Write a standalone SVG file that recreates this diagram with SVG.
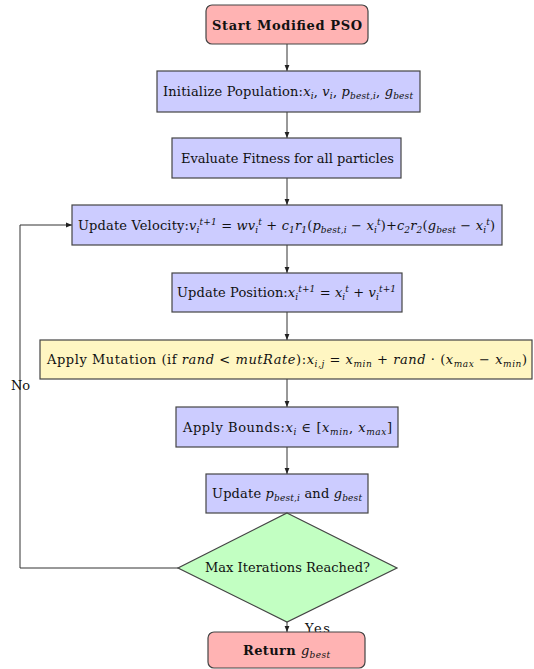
<svg xmlns="http://www.w3.org/2000/svg" width="534" height="669" viewBox="0 0 534 669" font-family="'DejaVu Serif', 'Liberation Serif', serif">
  <style>
    text { font-family: "DejaVu Serif", "Liberation Serif", serif; font-size: 13px; fill: #111; }
    .m { font-style: italic; }
    .s { font-size: 9px; font-style: italic; }
    .b { font-weight: bold; }
    .box { stroke: #444; stroke-width: 1.2; }
    .term { fill: #ffb3b3; }
    .proc { fill: #ccccff; }
    .mut { fill: #fff6c2; }
    .dec { fill: #c2ffc2; }
    .edge { fill: none; stroke: #333; stroke-width: 1; marker-end: url(#arrow); }
  </style>
  <defs>
    <marker id="arrow" viewBox="0 0 6 6" refX="6" refY="3" markerWidth="6" markerHeight="6" orient="auto" markerUnits="userSpaceOnUse">
      <path d="M0,0.6 L6,3 L0,5.4 z" fill="#222"/>
    </marker>
  </defs>

  <g id="connectors">
    <line class="edge" x1="287" y1="44" x2="287" y2="71"/>
    <line class="edge" x1="287" y1="112" x2="287" y2="138"/>
    <line class="edge" x1="287" y1="178" x2="287" y2="205"/>
    <line class="edge" x1="287" y1="245" x2="287" y2="273"/>
    <line class="edge" x1="287" y1="312" x2="287" y2="340"/>
    <line class="edge" x1="287" y1="379" x2="287" y2="407"/>
    <line class="edge" x1="287" y1="447" x2="287" y2="474"/>
    <line class="edge" x1="287" y1="513" x2="287" y2="515"/>
    <line class="edge" x1="287" y1="621" x2="287" y2="632"/>
    <polyline class="edge" points="178,568 20,568 20,225 72,225"/>
    <text x="11" y="390" textLength="19">No</text>
    <text x="305" y="633" textLength="25">Yes</text>
  </g>

  <g id="start">
    <rect class="box term" x="206" y="5" width="162" height="39" rx="6"/>
    <text class="b" x="212" y="29.5" textLength="150">Start Modified PSO</text>
  </g>

  <g id="init">
    <rect class="box proc" x="157" y="71" width="263" height="41"/>
    <text x="163" y="96" textLength="250">Initialize Population:<tspan class="m">x</tspan><tspan class="s" dy="3">i</tspan><tspan dy="-3">, </tspan><tspan class="m">v</tspan><tspan class="s" dy="3">i</tspan><tspan dy="-3">, </tspan><tspan class="m">p</tspan><tspan class="s" dy="3">best,i</tspan><tspan dy="-3">, </tspan><tspan class="m">g</tspan><tspan class="s" dy="3">best</tspan></text>
  </g>

  <g id="evaluate">
    <rect class="box proc" x="172" y="138" width="229" height="40"/>
    <text x="181" y="162.5" textLength="213">Evaluate Fitness for all particles</text>
  </g>

  <g id="velocity">
    <rect class="box proc" x="72" y="205" width="430" height="40"/>
    <text x="78" y="230" textLength="417">Update Velocity:<tspan class="m">v</tspan><tspan class="s" dy="3">i</tspan><tspan class="s" dy="-8">t+1</tspan><tspan dy="5"> = </tspan><tspan class="m">wv</tspan><tspan class="s" dy="3">i</tspan><tspan class="s" dy="-8">t</tspan><tspan dy="5"> + </tspan><tspan class="m">c</tspan><tspan class="s" dy="3">1</tspan><tspan class="m" dy="-3">r</tspan><tspan class="s" dy="3">1</tspan><tspan dy="-3">(</tspan><tspan class="m">p</tspan><tspan class="s" dy="3">best,i</tspan><tspan dy="-3"> − </tspan><tspan class="m">x</tspan><tspan class="s" dy="3">i</tspan><tspan class="s" dy="-8">t</tspan><tspan dy="5">)+</tspan><tspan class="m">c</tspan><tspan class="s" dy="3">2</tspan><tspan class="m" dy="-3">r</tspan><tspan class="s" dy="3">2</tspan><tspan dy="-3">(</tspan><tspan class="m">g</tspan><tspan class="s" dy="3">best</tspan><tspan dy="-3"> − </tspan><tspan class="m">x</tspan><tspan class="s" dy="3">i</tspan><tspan class="s" dy="-8">t</tspan><tspan dy="5">)</tspan></text>
  </g>

  <g id="position">
    <rect class="box proc" x="172" y="273" width="230" height="39"/>
    <text x="177" y="297" textLength="219">Update Position:<tspan class="m">x</tspan><tspan class="s" dy="3">i</tspan><tspan class="s" dy="-8">t+1</tspan><tspan dy="5"> = </tspan><tspan class="m">x</tspan><tspan class="s" dy="3">i</tspan><tspan class="s" dy="-8">t</tspan><tspan dy="5"> + </tspan><tspan class="m">v</tspan><tspan class="s" dy="3">i</tspan><tspan class="s" dy="-8">t+1</tspan></text>
  </g>

  <g id="mutation">
    <rect class="box mut" x="40" y="340" width="492" height="39"/>
    <text x="47" y="364" textLength="480">Apply Mutation (if <tspan class="m">rand</tspan> &lt; <tspan class="m">mutRate</tspan>):<tspan class="m">x</tspan><tspan class="s" dy="3">i,j</tspan><tspan dy="-3"> = </tspan><tspan class="m">x</tspan><tspan class="s" dy="3">min</tspan><tspan dy="-3"> + </tspan><tspan class="m">rand</tspan> · (<tspan class="m">x</tspan><tspan class="s" dy="3">max</tspan><tspan dy="-3"> − </tspan><tspan class="m">x</tspan><tspan class="s" dy="3">min</tspan><tspan dy="-3">)</tspan></text>
  </g>

  <g id="bounds">
    <rect class="box proc" x="176" y="407" width="222" height="40"/>
    <text x="183" y="431.5" textLength="209">Apply Bounds:<tspan class="m">x</tspan><tspan class="s" dy="3">i</tspan><tspan dy="-3"> ∈ [</tspan><tspan class="m">x</tspan><tspan class="s" dy="3">min</tspan><tspan dy="-3">, </tspan><tspan class="m">x</tspan><tspan class="s" dy="3">max</tspan><tspan dy="-3">]</tspan></text>
  </g>

  <g id="update-best">
    <rect class="box proc" x="206" y="474" width="162" height="39"/>
    <text x="212" y="498" textLength="150">Update <tspan class="m">p</tspan><tspan class="s" dy="3">best,i</tspan><tspan dy="-3"> and </tspan><tspan class="m">g</tspan><tspan class="s" dy="3">best</tspan></text>
  </g>

  <g id="decision">
    <polygon class="box dec" points="287,513 397,568 287,622 178,568"/>
    <text x="205" y="572" textLength="165">Max Iterations Reached?</text>
  </g>

  <g id="return">
    <rect class="box term" x="208" y="632" width="157" height="36" rx="6"/>
    <text x="243" y="655" textLength="87"><tspan class="b">Return </tspan><tspan class="m">g</tspan><tspan class="s" dy="3">best</tspan></text>
  </g>
</svg>
